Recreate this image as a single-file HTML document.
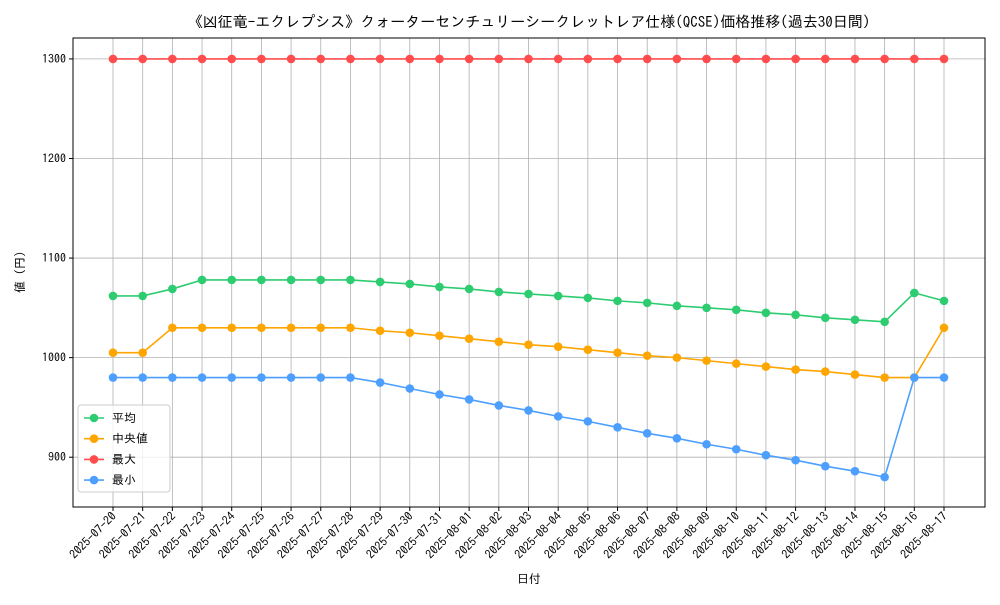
<!DOCTYPE html>
<html><head><meta charset="utf-8"><style>
body{margin:0;background:#fff;}
svg text{font-family:"IPAGothic","Noto Sans CJK JP",sans-serif;fill:#000;}
</style></head><body>
<svg id="chart" width="1000" height="600" xmlns="http://www.w3.org/2000/svg">
<rect width="1000" height="600" fill="#fff"/>
<text x="529" y="27" font-size="15" text-anchor="middle">《凶征竜-エクレプシス》クォーターセンチュリーシークレットレア仕様(QCSE)価格推移(過去30日間)</text>
<g id="grid"></g>
<rect x="73" y="38" width="912" height="469" fill="none" stroke="#000" stroke-width="1"/>
<g id="axes"></g>
<g id="series"></g>
<text x="529" y="583" font-size="12" text-anchor="middle">日付</text>
<text transform="translate(24,272) rotate(-90)" font-size="12" text-anchor="middle">値 (円)</text>
<g id="legend"></g>
</svg>
<script>
const dates=["2025-07-20","2025-07-21","2025-07-22","2025-07-23","2025-07-24","2025-07-25","2025-07-26","2025-07-27","2025-07-28","2025-07-29","2025-07-30","2025-07-31","2025-08-01","2025-08-02","2025-08-03","2025-08-04","2025-08-05","2025-08-06","2025-08-07","2025-08-08","2025-08-09","2025-08-10","2025-08-11","2025-08-12","2025-08-13","2025-08-14","2025-08-15","2025-08-16","2025-08-17"];
const avgValues=[1062,1062,1069,1078,1078,1078,1078,1078,1078,1076,1074,1071,1069,1066,1064,1062,1060,1057,1055,1052,1050,1048,1045,1043,1040,1038,1036,1065,1057];
const medianValues=[1005,1005,1030,1030,1030,1030,1030,1030,1030,1027,1025,1022,1019,1016,1013,1011,1008,1005,1002,1000,997,994,991,988,986,983,980,980,1030];
const maxValues=[1300,1300,1300,1300,1300,1300,1300,1300,1300,1300,1300,1300,1300,1300,1300,1300,1300,1300,1300,1300,1300,1300,1300,1300,1300,1300,1300,1300,1300];
const minValues=[980,980,980,980,980,980,980,980,980,975,969,963,958,952,947,941,936,930,924,919,913,908,902,897,891,886,880,980,980];
const yTicks=[900,1000,1100,1200,1300];
const seriesNames=["平均","中央値","最大","最小"];
const NS="http://www.w3.org/2000/svg";
const X0=113,X1=944,PT=38,PB=507;
const yMin=850,yMax=1321;
function xs(i){return X0+(X1-X0)*i/(dates.length-1);}
function ys(v){return PB-(v-yMin)/(yMax-yMin)*(PB-PT);}
function mk(tag,attrs,parent){const e=document.createElementNS(NS,tag);for(const k in attrs)e.setAttribute(k,attrs[k]);parent.appendChild(e);return e;}
const grid=document.getElementById('grid'),axes=document.getElementById('axes'),ser=document.getElementById('series'),leg=document.getElementById('legend');
dates.forEach((d,i)=>{
 const x=xs(i);
 const g=mk('line',{x1:x,x2:x,y1:PT,y2:PB,stroke:'#b0b0b0','stroke-width':0.8},grid);
 
 
 const t=mk('line',{x1:x,x2:x,y1:PB,y2:PB+4,stroke:'#000'},axes);
 
 
 const l=mk('text',{transform:`translate(${x+4},${PB+10}) rotate(-45)`,'font-size':12,'text-anchor':'end'},axes);
 l.textContent=d;
 
 
});
yTicks.forEach(v=>{
 const y=ys(v);
 const g=mk('line',{x1:73,x2:985,y1:y,y2:y,stroke:'#b0b0b0','stroke-width':0.8},grid);
 
 
 const t=mk('line',{x1:69,x2:73,y1:y,y2:y,stroke:'#000'},axes);
 
 
 const l=mk('text',{x:66,y:y+4,'font-size':12,'text-anchor':'end'},axes);
 l.textContent=v;
 
 
});
const allSeries=[[avgValues,'#2ecc71','avg'],[medianValues,'#ffa500','median'],[maxValues,'#ff4d4d','max'],[minValues,'#4d9fff','min']];
allSeries.forEach(([vals,col,key])=>{
 const p=mk('polyline',{points:vals.map((v,i)=>xs(i)+','+ys(v)).join(' '),fill:'none',stroke:col,'stroke-width':1.6},ser);
 
 
 vals.forEach((v,i)=>{
  const c=mk('circle',{cx:xs(i),cy:ys(v),r:4.3,fill:col},ser);
  
  
 });
});
const box=mk('rect',{x:78,y:405,width:92,height:87,rx:3,fill:'#fff','fill-opacity':0.8,stroke:'#ccc'},leg);


allSeries.forEach(([vals,col,key],i)=>{
 const y=418+i*20.7;
 const ln=mk('line',{x1:84,x2:104,y1:y,y2:y,stroke:col,'stroke-width':1.6},leg);
 
 
 mk('circle',{cx:94,cy:y,r:4.3,fill:col},leg);
 const t=mk('text',{x:112,y:y+4,'font-size':12},leg);
 t.textContent=seriesNames[i];
 
 
});
</script>
</body></html>
